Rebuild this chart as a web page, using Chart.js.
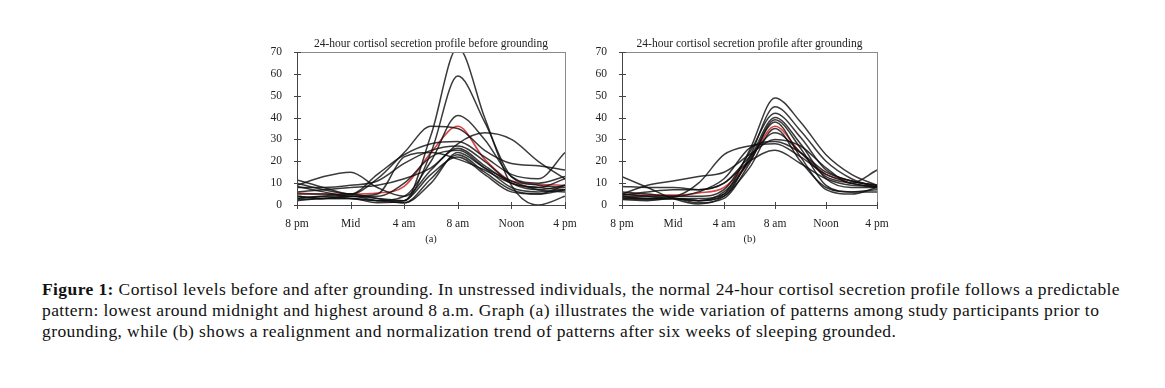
<!DOCTYPE html>
<html>
<head>
<meta charset="utf-8">
<script src="https://cdn.jsdelivr.net/npm/chart.js@4"></script>
<style>
  body { margin: 0; background: #fff; width: 1165px; height: 388px; position: relative; overflow: hidden; }
  canvas { position: absolute; }
  #chartA { left: 262px; top: 30px; }
  #chartB { left: 587px; top: 30px; }
  #caption {
    position: absolute; left: 42px; top: 279px;
    font-family: "Liberation Serif", serif; font-size: 17.5px; line-height: 21px;
    letter-spacing: 0.4px; color: #111; white-space: nowrap;
  }
</style>
</head>
<body>
<canvas id="chartA" width="338" height="220"></canvas>
<canvas id="chartB" width="325" height="220"></canvas>
<div id="caption">
<b>Figure 1:</b> Cortisol levels before and after grounding. In unstressed individuals, the normal 24-hour cortisol secretion profile follows a predictable<br>
pattern: lowest around midnight and highest around 8 a.m. Graph (a) illustrates the wide variation of patterns among study participants prior to<br>
grounding, while (b) shows a realignment and normalization trend of patterns after six weeks of sleeping grounded.
</div>
<script>
// hours after 8 pm, one reading every 2 hours
const hours = [0, 2, 4, 6, 8, 10, 12, 14, 16, 18, 20];
const xTickLabels = ["8 pm", "Mid", "4 am", "8 am", "Noon", "4 pm"];

// (a) before grounding
const a1  = [2, 3, 3, 2, 2, 32, 72, 40, 9, 0, 4];
const a2  = [4, 3, 4, 3, 2, 24, 59, 38, 13, 9, 8];
const a3  = [3, 4, 3, 2, 4, 20, 41, 30, 13, 10, 13];
const a4  = [9, 13, 15, 8, 4, 16, 28, 33, 30, 20, 12];
const a5  = [11.5, 8, 5, 12, 24, 36, 35, 25, 19, 18, 16];
const a6  = [10, 7, 5, 14, 23, 28, 29, 22, 14, 12, 24];
const a7  = [8, 8, 9, 11, 19, 25, 27, 20, 10, 7, 9];
const a8  = [6, 7, 8, 9, 12, 17, 26, 18, 10, 8, 7];
const a9  = [5, 5, 4, 4, 10, 22, 25, 17, 8, 6, 7];
const a10 = [3, 4, 5, 3, 1, 10, 24, 17, 11, 7, 6];
const a11 = [2.5, 3, 4, 2, 1, 12, 23, 15, 7, 5, 7];
const a12 = [4, 3, 3, 1, 2, 14, 22, 14, 6, 5, 9];
const a13 = [8.5, 6, 4, 5, 22, 24, 21, 16, 10, 8, 12];
const aMean = [5.5, 5, 5, 5.5, 8.5, 24, 36, 21, 11, 9.5, 9];
const beforeLines = [a1, a2, a3, a4, a5, a6, a7, a8, a9, a10, a11, a12, a13];

// (b) after grounding
const b1  = [4, 3, 3, 2, 5, 25, 49, 38, 23, 14, 9];
const b2  = [3, 3, 3, 2, 4, 22, 45, 34, 20, 12, 8];
const b3  = [6, 5, 4, 4, 7, 24, 42, 31, 16, 11, 9];
const b4  = [5, 4, 3, 3, 5, 21, 40, 28, 12, 8, 8];
const b5  = [3, 2.5, 3, 1, 3, 19, 39, 26, 9, 6, 7];
const b6  = [2.5, 2, 3, 2, 6, 20, 38, 22, 7, 5, 8];
const b7  = [13, 8, 3, 0.5, 4, 17, 35, 20, 8, 6, 6];
const b8  = [8.5, 8, 8, 7, 10, 22, 33, 24, 13, 10, 8];
const b9  = [5, 9, 11, 13, 15, 23, 30, 27, 17, 10, 16];
const b10 = [4, 4, 4, 10, 23, 27, 28, 22, 14, 10, 8];
const b11 = [3.5, 3, 3.5, 6, 12, 26, 29, 24, 15, 11, 9];
const b12 = [4.5, 6, 7, 7, 10, 20, 25, 19, 12, 9, 8.5];
const bMean = [5, 4.5, 4.5, 5.5, 8, 20, 36, 24, 14, 11, 8.5];
const afterLines = [b1, b2, b3, b4, b5, b6, b7, b8, b9, b10, b11, b12];

const serif = "'Liberation Serif', serif";

// box round the plot, little crossing tick marks, and the title over the plot area
const frame = {
  id: "frame",
  afterDraw(chart, args, opts) {
    const ctx = chart.ctx, a = chart.chartArea;
    const xs = chart.scales.x, ys = chart.scales.y;
    ctx.save();
    ctx.strokeStyle = "#8a8a8a";
    ctx.lineWidth = 1;
    ctx.strokeRect(a.left + 0.5, a.top + 0.5, a.right - a.left, a.bottom - a.top);
    ctx.strokeStyle = "#444";
    ctx.beginPath();
    ctx.moveTo(a.left + 0.5, a.top); ctx.lineTo(a.left + 0.5, a.bottom + 0.5);
    ctx.lineTo(a.right, a.bottom + 0.5);
    ys.ticks.forEach(t => {
      const y = Math.round(ys.getPixelForValue(t.value)) + 0.5;
      ctx.moveTo(a.left - 3, y); ctx.lineTo(a.left + 4, y);
    });
    xs.ticks.forEach(t => {
      const x = Math.round(xs.getPixelForValue(t.value)) + 0.5;
      ctx.moveTo(x, a.bottom - 3); ctx.lineTo(x, a.bottom + 4);
    });
    ctx.stroke();
    ctx.fillStyle = "#222";
    ctx.font = "11.5px " + serif;
    ctx.textAlign = "center";
    ctx.textBaseline = "bottom";
    ctx.fillText(opts.text, (a.left + a.right) / 2, a.top - 2);
    ctx.restore();
  }
};

function makeChart(id, lines, mean, title, sub) {
  const datasets = lines.map(vals => ({
    data: vals.map((v, i) => ({ x: hours[i], y: v })),
    borderColor: "rgba(15,15,15,0.82)",
    borderWidth: 1.5
  }));
  datasets.push({
    data: mean.map((v, i) => ({ x: hours[i], y: v })),
    borderColor: "rgba(215,45,45,0.9)",
    borderWidth: 1.6
  });
  new Chart(document.getElementById(id), {
    type: "line",
    data: { datasets },
    plugins: [frame],
    options: {
      responsive: false,
      animation: false,
      events: [],
      layout: { padding: { top: 22, right: 35, left: 0, bottom: 0 } },
      elements: { point: { radius: 0 }, line: { cubicInterpolationMode: "monotone" } },
      scales: {
        x: {
          type: "linear", min: 0, max: 20,
          grid: { display: false },
          border: { display: false },
          afterBuildTicks: s => { s.ticks = [0, 4, 8, 12, 16, 20].map(v => ({ value: v })); },
          ticks: {
            color: "#222", padding: 4, maxRotation: 0,
            font: { family: serif, size: 11.5 },
            callback: (v) => xTickLabels[v / 4]
          },
          title: { display: true, text: sub, color: "#222", padding: { top: 4 }, font: { family: serif, size: 10.5 } },
          afterFit: s => { s.height = 45; }
        },
        y: {
          min: 0, max: 70,
          grid: { display: false },
          border: { display: false },
          ticks: { stepSize: 10, color: "#222", padding: 7, font: { family: serif, size: 11.5 } },
          afterFit: s => { s.width = 35; }
        }
      },
      plugins: {
        legend: { display: false },
        tooltip: { enabled: false },
        frame: { text: title }
      }
    }
  });
}

makeChart("chartA", beforeLines, aMean, "24-hour cortisol secretion profile before grounding", "(a)");
makeChart("chartB", afterLines, bMean, "24-hour cortisol secretion profile after grounding", "(b)");
</script>
</body>
</html>
